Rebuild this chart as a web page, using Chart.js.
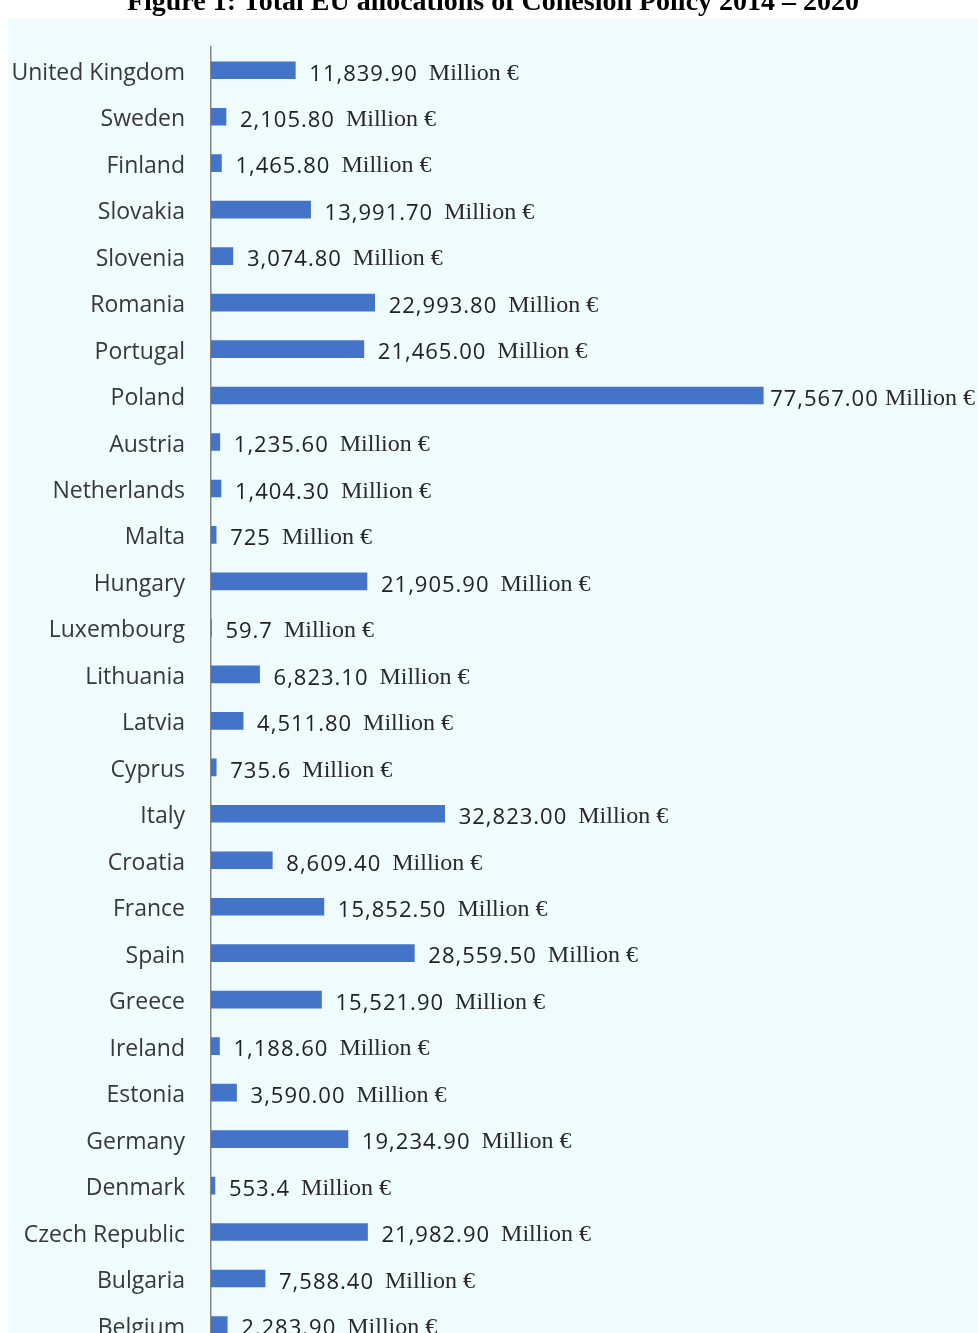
<!DOCTYPE html>
<html>
<head>
<meta charset="utf-8">
<script src="https://cdn.jsdelivr.net/npm/chart.js@4.4.1/dist/chart.umd.min.js"></script>
<style>
  html, body { margin: 0; padding: 0; background: #fff; overflow: hidden; }
  body { width: 978px; height: 1333px; position: relative; }
  .panel { position: absolute; left: 8px; top: 19px; right: 0; bottom: 0; background: #effbfd; }
  .title {
    position: absolute; left: 0; right: 0; top: -13px; text-align: center;
    font: bold 28px/28px "Liberation Serif", "Times New Roman", serif; color: #000;
    white-space: nowrap; z-index: 2; padding-left: 8px;
  }
  #chart { position: absolute; left: 0; top: 0; }
</style>
</head>
<body>
<div class="panel"></div>
<div class="title">Figure 1: Total EU allocations of Cohesion Policy 2014 – 2020</div>
<!-- taller than the window: the tick padding is also reserved below the last row -->
<canvas id="chart" width="978" height="1388"></canvas>
<script>
// member states, top to bottom as listed
const countries = [
  "United Kingdom", "Sweden", "Finland", "Slovakia", "Slovenia", "Romania",
  "Portugal", "Poland", "Austria", "Netherlands", "Malta", "Hungary",
  "Luxembourg", "Lithuania", "Latvia", "Cyprus", "Italy", "Croatia",
  "France", "Spain", "Greece", "Ireland", "Estonia", "Germany",
  "Denmark", "Czech Republic", "Bulgaria", "Belgium"
]

// total allocation, million euro
const allocations = [
  11839.90, 2105.80, 1465.80, 13991.70, 3074.80, 22993.80,
  21465.00, 77567.00, 1235.60, 1404.30, 725, 21905.90,
  59.7, 6823.10, 4511.80, 735.6, 32823.00, 8609.40,
  15852.50, 28559.50, 15521.90, 1188.60, 3590.00, 19234.90,
  553.4, 21982.90, 7588.40, 2283.90
]

const unitLabel = "Million €"

function formatValue(v) {
  if (v < 1000) return String(v)
  return v.toLocaleString("en-US", { minimumFractionDigits: 2, maximumFractionDigits: 2 })
}

// number in sans, unit in serif, right of every bar
const valueLabels = {
  id: "valueLabels",
  afterDatasetsDraw(chart) {
    const ctx = chart.ctx
    const meta = chart.getDatasetMeta(0)
    const numFont = '22px "Open Sans", sans-serif'
    const unitFont = '24px "Liberation Serif", serif'
    ctx.save()
    ctx.textBaseline = "middle"
    ctx.textAlign = "left"
    ctx.font = unitFont
    const unitW = ctx.measureText(unitLabel).width
    meta.data.forEach((bar, i) => {
      const txt = formatValue(allocations[i])
      const y = bar.y + 4
      ctx.letterSpacing = "1px"
      ctx.font = numFont
      const numW = ctx.measureText(txt).width
      let gap1 = 14
      let gap2 = 11
      // squeeze the gaps when the label would run off the right edge
      const over = bar.x + gap1 + numW + gap2 + unitW - (chart.width - 3)
      if (over > 0) {
        gap1 = Math.max(4, gap1 - over * 0.6)
        gap2 = Math.max(4, gap2 - over * 0.4)
      }
      let x = bar.x + gap1
      ctx.fillStyle = "#222"
      ctx.fillText(txt, x, y)
      x += numW + gap2
      ctx.letterSpacing = "0px"
      ctx.font = unitFont
      ctx.fillStyle = "#2a2a2a"
      ctx.fillText(unitLabel, x, y - 1)
    })
    ctx.restore()
  }
}

new Chart(document.getElementById("chart"), {
  type: "bar",
  data: {
    labels: countries,
    datasets: [{
      data: allocations,
      backgroundColor: "#4474c8",
      borderWidth: 0,
      barThickness: 17
    }]
  },
  plugins: [valueLabels],
  options: {
    indexAxis: "y",
    responsive: false,
    animation: false,
    layout: { padding: { top: 47, right: 55, bottom: 0, left: 0 } },
    plugins: {
      legend: { display: false },
      tooltip: { enabled: false }
    },
    scales: {
      x: { display: false, min: 0, max: 100000 },
      y: {
        afterFit: (s) => { s.width = 211 },
        grid: { display: false, drawTicks: false },
        border: { display: true, color: "#858585", width: 1.5 },
        ticks: {
          padding: 26,
          labelOffset: 3,
          color: "#383838",
          font: { family: '"Open Sans", sans-serif', size: 23 }
        }
      }
    }
  }
})
</script>
</body>
</html>
